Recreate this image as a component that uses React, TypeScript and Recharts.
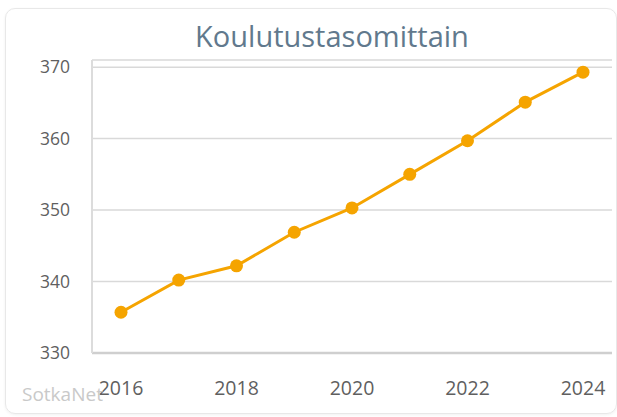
import { LineChart, Line, XAxis, YAxis, CartesianGrid } from "recharts";

const years = ["2016", "2017", "2018", "2019", "2020", "2021", "2022", "2023", "2024"];
const values = [335.7, 340.2, 342.2, 346.9, 350.3, 355.0, 359.7, 365.1, 369.3];
const yTicks = [330, 340, 350, 360, 370];

const data = years.map((year, i) => ({ year, value: values[i] }));

const FONT = "'Open Sans', 'Noto Sans', sans-serif";

export default function App() {
  return (
    <div
      style={{
        position: "absolute",
        left: 0,
        top: 0,
        width: 617,
        height: 417,
        background: "#fff",
        fontFamily: FONT,
        overflow: "hidden",
      }}
    >
      <div
        style={{
          position: "absolute",
          left: 5,
          top: 8,
          width: 610,
          height: 404,
          border: "1px solid #e8e8e8",
          borderRadius: 10,
          boxShadow: "0 1px 3px rgba(0,0,0,0.06)",
        }}
      />
      <div
        style={{
          position: "absolute",
          left: 132,
          top: 16,
          width: 400,
          textAlign: "center",
          fontSize: 29,
          color: "#61798d",
        }}
      >
        Koulutustasomittain
      </div>
      <div style={{ position: "absolute", left: 0, top: 0 }}>
        <LineChart
          width={617}
          height={417}
          data={data}
          margin={{ top: 60, right: 5, bottom: 0, left: 0 }}
        >
          <CartesianGrid vertical={false} stroke="#d9d9d9" strokeWidth={1.5} />
          <XAxis
            dataKey="year"
            interval={1}
            padding={{ left: 29, right: 29 }}
            height={64}
            tickLine={false}
            tickSize={0}
            tickMargin={28}
            axisLine={{ stroke: "#cfcfcf", strokeWidth: 2.5 }}
            tick={{ fontSize: 19.5, fill: "#5f5f5f", fontFamily: FONT }}
          />
          <YAxis
            domain={[330, 371]}
            ticks={yTicks}
            width={92}
            tickLine={false}
            tickSize={0}
            tickMargin={22}
            axisLine={{ stroke: "#dcdcdc", strokeWidth: 2 }}
            tick={{ fontSize: 17.5, fill: "#5f5f5f", fontFamily: FONT }}
          />
          <Line
            dataKey="value"
            stroke="#f5a400"
            strokeWidth={3}
            dot={{ r: 6.5, fill: "#f5a400", stroke: "#f5a400", strokeWidth: 0 }}
            isAnimationActive={false}
          />
        </LineChart>
      </div>
      <div
        style={{
          position: "absolute",
          left: 22,
          top: 381,
          fontSize: 19,
          color: "#c9c9c9",
        }}
      >
        SotkaNet
      </div>
    </div>
  );
}
